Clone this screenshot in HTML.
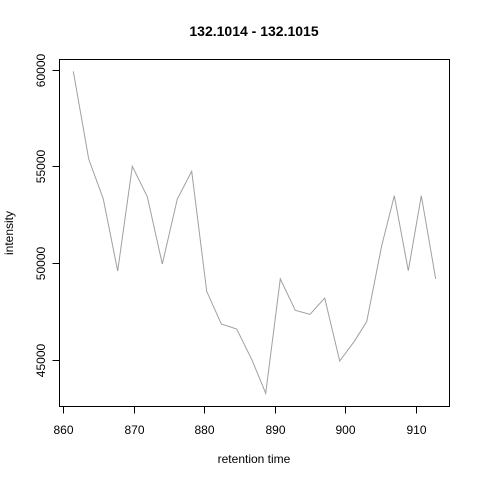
<!DOCTYPE html>
<html><head><meta charset="utf-8"><style>
body{margin:0;background:#fff}
svg text{font-family:"Liberation Sans",Arial,sans-serif;fill:#000}
</style></head><body>
<svg id="chart" width="480" height="480" xmlns="http://www.w3.org/2000/svg">
<rect width="480" height="480" fill="#fff"/>
<text x="254" y="36" font-size="14" font-weight="bold" text-anchor="middle">132.1014 - 132.1015</text>
<text x="254" y="463" font-size="12" text-anchor="middle">retention time</text>
<text transform="translate(13,233) rotate(-90)" font-size="12" text-anchor="middle">intensity</text>
<rect x="59.5" y="59.5" width="390" height="347" fill="none" stroke="#000"/>
<g id="xaxis"></g>
<g id="yaxis"></g>
<polyline id="line" fill="none" stroke="#a0a0a0" stroke-width="1"/>
</svg>
<script>
const times=[861.41,863.59,865.66,867.71,869.78,871.91,874.04,876.17,878.21,880.34,882.42,884.60,886.82,888.72,890.79,892.92,895.01,897.09,899.22,901.30,903.06,905.19,906.98,908.96,910.81,912.85];
const intensity=[59917,55380,53311,49587,55003,53430,49948,53311,54744,48536,46844,46586,44946,43259,49175,47553,47346,48190,44930,45949,46963,50895,53482,49602,53482,49175];
const xTicks=[860,870,880,890,900,910];
const yTicks=[45000,50000,55000,60000];
const X=v=>63.4+(v-860)*7.044;
const Y=v=>69.7+(60000-v)*0.01933;
const NS="http://www.w3.org/2000/svg";
document.getElementById('line').setAttribute('points',times.map((t,i)=>X(t).toFixed(1)+','+Y(intensity[i]).toFixed(1)).join(' '));
const xa=document.getElementById('xaxis');
xTicks.forEach(t=>{
 const l=document.createElementNS(NS,'line');
 
 
 const x=Math.round(X(t))+0.5;
 l.setAttribute('x1',x);l.setAttribute('x2',x);l.setAttribute('y1',406.5);l.setAttribute('y2',413.5);l.setAttribute('stroke','#000');
 xa.appendChild(l);
 const tx=document.createElementNS(NS,'text');
 
 
 tx.setAttribute('x',x);tx.setAttribute('y',434);tx.setAttribute('font-size','12');tx.setAttribute('text-anchor','middle');
 tx.textContent=t;xa.appendChild(tx);
});
const ya=document.getElementById('yaxis');
yTicks.forEach(t=>{
 const l=document.createElementNS(NS,'line');
 
 
 const y=Math.round(Y(t))+0.5;
 l.setAttribute('x1',52.5);l.setAttribute('x2',59.5);l.setAttribute('y1',y);l.setAttribute('y2',y);l.setAttribute('stroke','#000');
 ya.appendChild(l);
 const tx=document.createElementNS(NS,'text');
 
 
 tx.setAttribute('transform','translate(45,'+y+') rotate(-90)');tx.setAttribute('font-size','12');tx.setAttribute('text-anchor','middle');
 tx.textContent=t;ya.appendChild(tx);
});
</script>
</body></html>
